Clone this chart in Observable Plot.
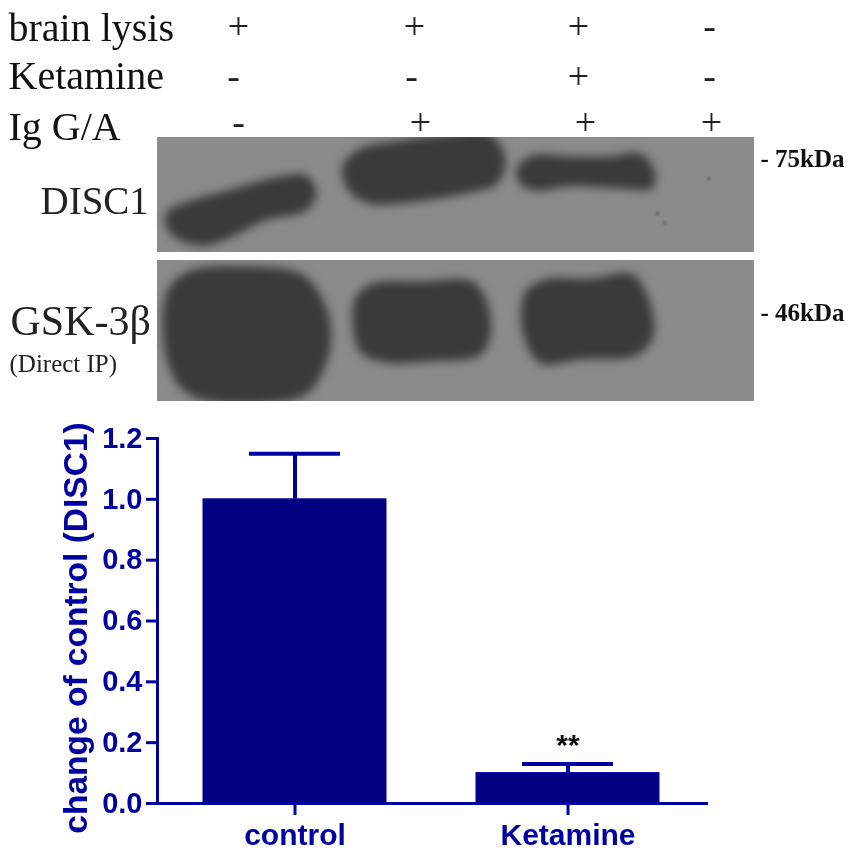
<!DOCTYPE html>
<html>
<head>
<meta charset="utf-8">
<script src="https://cdn.jsdelivr.net/npm/d3@7"></script>
<script src="https://cdn.jsdelivr.net/npm/@observablehq/plot@0.6"></script>
<style>
  html, body { margin: 0; padding: 0; background: #fff; }
  svg { display: block; filter: blur(0.5px); }
</style>
</head>
<body>
<div id="blot"></div>
<div id="bars"></div>
<script>
// Bar chart values
const groups = ["control", "Ketamine"];
const means = [1.0, 0.10];
const upper = [1.15, 0.13];
const yTicks = [0, 0.2, 0.4, 0.6, 0.8, 1.0, 1.2];
const marks = ["", "**"];

// Treatment table above the blot
const rowNames = ["brain lysis", "Ketamine", "Ig G/A"];
const treatments = [
  {t: "+", x: 238, row: 0}, {t: "+", x: 414, row: 0}, {t: "+", x: 578, row: 0}, {t: "-", x: 709, row: 0},
  {t: "-", x: 233, row: 1}, {t: "-", x: 411, row: 1}, {t: "+", x: 578, row: 1}, {t: "-", x: 709, row: 1},
  {t: "-", x: 238, row: 2}, {t: "+", x: 420, row: 2}, {t: "+", x: 585, row: 2}, {t: "+", x: 711, row: 2}
];

// Film panels and bands, in position-on-film units
const panels = [
  {x1: 157, x2: 754, y1: 137, y2: 252},
  {x1: 157, x2: 754, y1: 260, y2: 401}
];
const bandDisc1a = [[166,212],[185,202],[230,189],[275,177],[306,175],[316,192],[306,210],[265,220],[230,237],[206,245],[182,241],[167,229]];
const bandDisc1b = [[342,166],[358,149],[400,140],[450,134],[488,133],[505,158],[497,183],[460,194],[400,203],[368,203],[348,190]];
const bandDisc1c = [[516,168],[532,155],[570,156],[610,156],[640,153],[654,170],[652,188],[620,188],[570,186],[536,190],[520,184]];
const bandGskA = [[168,288],[190,270],[250,266],[300,273],[322,298],[331,335],[322,372],[302,396],[200,399],[176,382],[163,340]];
const bandGskB = [[355,297],[372,283],[420,281],[472,281],[486,300],[490,335],[479,355],[430,361],[385,362],[360,352],[352,322]];
const bandGskC = [[524,293],[545,279],[590,278],[632,274],[648,298],[653,335],[636,355],[580,359],[540,363],[523,335]];
const bands = [bandDisc1a, bandDisc1b, bandDisc1c, bandGskA, bandGskB, bandGskC]
  .flatMap((pts, band) => pts.map(([x, y]) => ({band, x, y})));
const specks = [[708,178],[657,213],[664,222]];
const sideLabels = [
  {t: "DISC1", x: 40, y: 201, size: 39},
  {t: "GSK-3β", x: 10, y: 321, size: 42},
  {t: "(Direct IP)", x: 9, y: 363, size: 25}
];
const weights = [{t: "- 75kDa", x: 760, y: 166}, {t: "- 46kDa", x: 760, y: 320}];
const rowBaselines = [40, 88, 139];
const plusRows = [38, 88, 134];

const blue = "#0000a0";
const navy = "#000080";
const filmGray = "#8b8b8b";
const bandGray = "#3a3a3a";
const serif = "'Liberation Serif', serif";

const blot = Plot.plot({
  width: 851, height: 410,
  margin: 0,
  x: {type: "linear", domain: [0, 851], range: [0, 851], axis: null},
  y: {type: "linear", domain: [0, 410], range: [0, 410], axis: null},
  marks: [
    Plot.rect(panels, {x1: "x1", x2: "x2", y1: "y1", y2: "y2", fill: filmGray}),
    Plot.line(bands, {x: "x", y: "y", z: "band", fill: bandGray, stroke: "none",
      curve: "catmull-rom-closed", imageFilter: "blur(5px)"}),
    Plot.dot(specks, {x: d => d[0], y: d => d[1], r: 1.5, fill: "#555", imageFilter: "blur(1px)"}),
    // keep the blurred band edges on the film
    Plot.rect([{x1: 0, x2: 851, y1: 120, y2: 137}, {x1: 157, x2: 754, y1: 252, y2: 260},
               {x1: 130, x2: 157, y1: 262, y2: 410}, {x1: 157, x2: 754, y1: 401, y2: 410}],
      {x1: "x1", x2: "x2", y1: "y1", y2: "y2", fill: "white"}),
    Plot.text(rowNames, {text: d => d, x: () => 8, y: (d, i) => rowBaselines[i], textAnchor: "start",
      lineAnchor: "bottom", fontFamily: serif, fontSize: 40, fill: "#111"}),
    Plot.text(treatments, {text: "t", x: "x", y: d => plusRows[d.row], lineAnchor: "bottom",
      fontFamily: serif, fontSize: 38, fill: "#222"}),
    Plot.text(sideLabels, {text: "t", x: "x", y: "y", textAnchor: "start", lineAnchor: "middle",
      fontFamily: serif, fontSize: "size", fill: "#222"}),
    Plot.text(weights, {text: "t", x: "x", y: "y", textAnchor: "start", lineAnchor: "bottom",
      fontFamily: serif, fontWeight: "bold", fontSize: 25, fill: "#111"})
  ]
});
document.getElementById("blot").append(blot);

const table = groups.map((g, i) => ({g, mean: means[i], up: upper[i], mark: marks[i]}));
const chart = Plot.plot({
  width: 851, height: 445,
  marginTop: 28, marginBottom: 52, marginLeft: 157, marginRight: 145,
  style: {fontFamily: "'Liberation Sans', Arial, sans-serif"},
  x: {domain: groups, range: [157, 705], paddingInner: 0.33, paddingOuter: 0.167, label: null},
  y: {domain: [0, 1.2], label: null},
  marks: [
    Plot.barY(table, {x: "g", y: "mean", fill: navy, stroke: "#0000b0", strokeWidth: 1}),
    Plot.ruleX(table, {x: "g", y1: "mean", y2: "up", stroke: blue, strokeWidth: 4}),
    Plot.tickY(table, {x: "g", y: "up", stroke: blue, strokeWidth: 4, insetLeft: 46, insetRight: 46}),
    Plot.text(table, {x: "g", y: "up", text: "mark", dy: -19, fontSize: 30, fontWeight: "bold",
      fill: "#111", lineAnchor: "middle"}),
    Plot.frame({anchor: "left", stroke: blue, strokeWidth: 3, strokeOpacity: 1}),
    Plot.frame({anchor: "bottom", stroke: blue, strokeWidth: 3, strokeOpacity: 1}),
    Plot.axisY({ticks: yTicks, tickSize: 11, tickPadding: 4, tickFormat: ".1f", label: null,
      stroke: blue, strokeWidth: 3, strokeOpacity: 1, fill: blue, fontSize: 29, fontWeight: "bold"}),
    Plot.axisX({tickSize: 12, tickPadding: 8, label: null, stroke: blue, strokeWidth: 3, strokeOpacity: 1,
      fill: blue, fontSize: 30, fontWeight: "bold"}),
    Plot.text(["change of control (DISC1)"], {frameAnchor: "left", textAnchor: "middle", text: d => d,
      rotate: -90, dx: -81, dy: 7, fontSize: 33.5, fontWeight: "bold", fill: blue})
  ]
});
document.getElementById("bars").append(chart);
</script>
</body>
</html>
